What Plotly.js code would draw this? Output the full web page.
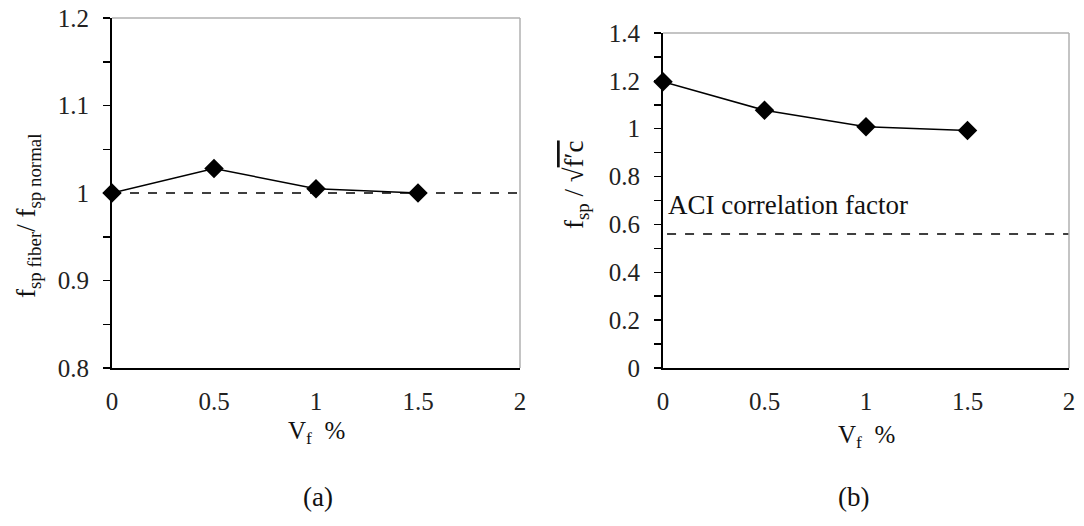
<!DOCTYPE html>
<html>
<head>
<meta charset="utf-8">
<script src="https://cdn.plot.ly/plotly-3.0.1.min.js"></script>
<style>html,body{margin:0;padding:0;background:#fff;}#chart{width:1084px;height:526px;}</style>
</head>
<body>
<div id="chart"></div>
<script>
// ---- data ----
const fiberVolume = [0, 0.5, 1, 1.5];               // Vf %
const strengthRatio = [1.0, 1.028, 1.005, 1.0];     // (a) fsp fiber / fsp normal
const normalizedSplit = [1.196, 1.077, 1.008, 0.993]; // (b) fsp / sqrt(f'c)
const refLineX = [0, 2];
const ratioBaseline = [1, 1];
const aciLineX = [0.02, 2];
const aciFactor = [0.56, 0.56];
const xTicks = [0, 0.5, 1, 1.5, 2];
const xTickText = ['0', '0.5', '1', '1.5', '2'];
const yTicksA = [0.8, 0.9, 1, 1.1, 1.2];
const yTickTextA = ['0.8', '0.9', '1', '1.1', '1.2'];
const yTicksB = [0, 0.2, 0.4, 0.6, 0.8, 1, 1.2, 1.4];
const yTickTextB = ['0', '0.2', '0.4', '0.6', '0.8', '1', '1.2', '1.4'];

const W = 1084, H = 526;
const fx = p => p / W;
const fy = p => 1 - p / H;
const FONT = '"Liberation Serif", "Times New Roman", serif';

const lineStyle = {color: 'black', width: 1.5};
const mk = {symbol: 'diamond', size: 15, color: 'black'};

const traces = [
  {x: refLineX, y: ratioBaseline, xaxis: 'x', yaxis: 'y', mode: 'lines',
   line: {color: 'black', width: 1.6, dash: 'dash'}, hoverinfo: 'skip'},
  {x: fiberVolume, y: strengthRatio, xaxis: 'x', yaxis: 'y', mode: 'lines+markers',
   line: lineStyle, marker: mk, cliponaxis: false},
  {x: aciLineX, y: aciFactor, xaxis: 'x2', yaxis: 'y2', mode: 'lines',
   line: {color: 'black', width: 1.3, dash: 'dash'}, hoverinfo: 'skip'},
  {x: fiberVolume, y: normalizedSplit, xaxis: 'x2', yaxis: 'y2', mode: 'lines+markers',
   line: lineStyle, marker: mk, cliponaxis: false}
];

function xAxis(domain, anchor) {
  return {domain: domain, anchor: anchor, range: [0, 2], tickvals: xTicks, ticktext: xTickText,
    ticks: '', showline: true, linecolor: 'black', linewidth: 2, showgrid: false, zeroline: false,
    ticklabelstandoff: 10, tickfont: {family: FONT, size: 25, color: '#222'}};
}
function yAxis(domain, anchor, range, vals, text, minor) {
  return {domain: domain, anchor: anchor, range: range, tickvals: vals, ticktext: text,
    ticks: 'outside', ticklen: 7, tickwidth: 1.5, tickcolor: 'black',
    minor: {tickvals: minor, ticks: 'outside', ticklen: 7, tickwidth: 1.5, tickcolor: 'black'},
    showline: true, linecolor: 'black', linewidth: 2, showgrid: false, zeroline: false,
    ticklabelstandoff: 9, tickfont: {family: FONT, size: 25, color: '#222'}};
}

const minorA = [0.85, 0.95, 1.05, 1.15];
const minorB = [0.1, 0.3, 0.5, 0.7, 0.9, 1.1, 1.3];

const frameColor = '#b0b0b0';
const shapes = [
  {type: 'line', xref: 'x domain', yref: 'y domain', x0: 0, x1: 1, y0: 1, y1: 1, line: {color: frameColor, width: 1.5}},
  {type: 'line', xref: 'x domain', yref: 'y domain', x0: 1, x1: 1, y0: 0, y1: 1, line: {color: frameColor, width: 1.5}},
  {type: 'line', xref: 'x2 domain', yref: 'y2 domain', x0: 0, x1: 1, y0: 1, y1: 1, line: {color: frameColor, width: 1.5}},
  {type: 'line', xref: 'x2 domain', yref: 'y2 domain', x0: 1, x1: 1, y0: 0, y1: 1, line: {color: frameColor, width: 1.5}}
];

const ann = (text, x, y, size, opts) => Object.assign({text: text, x: x, y: y, xref: 'paper', yref: 'paper',
  xanchor: 'center', yanchor: 'middle',
  showarrow: false, font: {family: FONT, size: size, color: '#111'}}, opts || {});

const annotations = [
  ann('V<sub>f</sub>  %', fx(316), fy(432), 25),
  ann('V<sub>f</sub>  %', fx(866), fy(436), 25),
  ann('f<sub>sp fiber</sub>/ f<sub>sp normal</sub>', fx(28), fy(216), 27, {textangle: -90}),
  ann('f<sub>sp</sub> / √<span style="text-decoration:overline">f′c</span>', fx(576), fy(185), 27, {textangle: -90}),
  {text: 'ACI correlation factor', x: 0, y: 0.68, xref: 'x2', yref: 'y2', xanchor: 'left', yanchor: 'middle', xshift: 3,
   showarrow: false, font: {family: FONT, size: 27, color: '#111'}},
  ann('(a)', fx(318), fy(497), 27),
  ann('(b)', fx(853), fy(497), 27)
];

const layout = {
  width: W, height: H, margin: {l: 0, r: 0, t: 0, b: 0},
  paper_bgcolor: 'white', plot_bgcolor: 'white', showlegend: false,
  xaxis: xAxis([fx(112), fx(520)], 'y'),
  yaxis: yAxis([fy(368), fy(18)], 'x', [0.8, 1.2], yTicksA, yTickTextA, minorA),
  xaxis2: xAxis([fx(663), fx(1069)], 'y2'),
  yaxis2: yAxis([fy(368), fy(33)], 'x2', [0, 1.4], yTicksB, yTickTextB, minorB),
  shapes: shapes,
  annotations: annotations
};

Plotly.newPlot('chart', traces, layout, {displayModeBar: false, staticPlot: true});
</script>
</body>
</html>
